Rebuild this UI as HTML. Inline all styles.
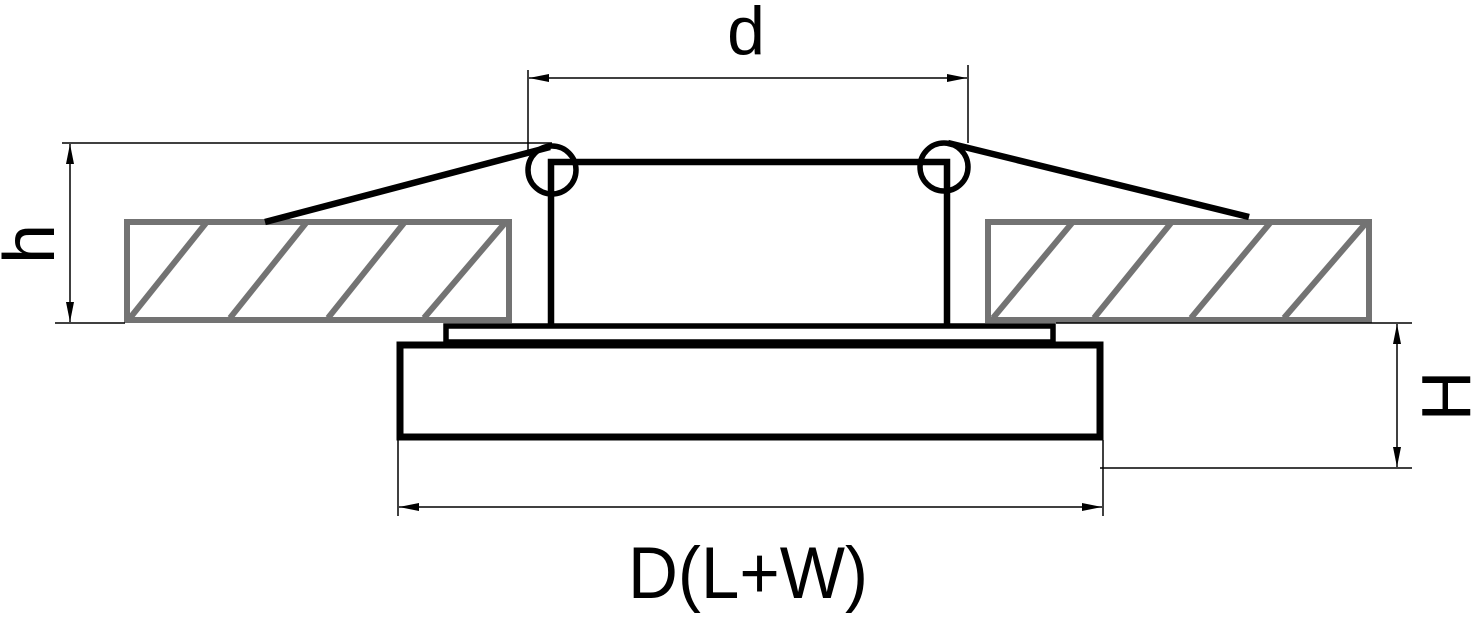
<!DOCTYPE html>
<html><head><meta charset="utf-8"><style>html,body{margin:0;padding:0;background:#fff}svg{display:block}</style></head>
<body>
<svg width="1474" height="621" viewBox="0 0 1474 621" xmlns="http://www.w3.org/2000/svg">
<defs>
<marker id="a" viewBox="0 0 20 8" refX="20" refY="4" markerWidth="20" markerHeight="8" markerUnits="userSpaceOnUse" orient="auto-start-reverse"><path d="M0,0 L20,4 L0,8 z" fill="#000"/></marker>
</defs>
<g fill="none" stroke="#737373" stroke-width="6">
<rect x="127" y="222" width="382" height="98"/>
<line x1="130" y1="318" x2="206" y2="223"/>
<line x1="230" y1="318" x2="306" y2="223"/>
<line x1="328" y1="318" x2="404" y2="223"/>
<line x1="424" y1="318" x2="505" y2="223"/>
<rect x="988" y="222" width="381" height="98"/>
<line x1="993" y1="318" x2="1072" y2="223"/>
<line x1="1094" y1="318" x2="1171" y2="223"/>
<line x1="1191" y1="318" x2="1270" y2="223"/>
<line x1="1284" y1="318" x2="1366" y2="223"/>
</g>
<g fill="none" stroke="#000" stroke-width="6.5">
<line x1="265" y1="222" x2="550" y2="147"/>
<line x1="948" y1="143" x2="1249" y2="217"/>
<polyline points="551,326 551,162 947,162 947,326"/>
<rect x="446" y="326" width="607" height="16" stroke-width="5.5"/>
<rect x="400" y="345" width="700" height="92" stroke-width="7"/>
<circle cx="552" cy="170" r="24" stroke-width="5.5"/>
<circle cx="944" cy="167" r="24" stroke-width="5.5"/>
</g>
<g stroke="#000" stroke-width="1.5" fill="none">
<line x1="528" y1="70" x2="528" y2="150"/>
<line x1="968" y1="65" x2="968" y2="143"/>
<line x1="529" y1="78" x2="967" y2="78" marker-start="url(#a)" marker-end="url(#a)"/>
<line x1="62" y1="143" x2="552" y2="143"/>
<line x1="55" y1="323" x2="125" y2="323"/>
<line x1="70" y1="144" x2="70" y2="322" marker-start="url(#a)" marker-end="url(#a)"/>
<line x1="1056" y1="323" x2="1412" y2="323"/>
<line x1="1100" y1="468" x2="1412" y2="468"/>
<line x1="1397" y1="324" x2="1397" y2="467" marker-start="url(#a)" marker-end="url(#a)"/>
<line x1="398" y1="440" x2="398" y2="516"/>
<line x1="1103" y1="440" x2="1103" y2="516"/>
<line x1="399" y1="507" x2="1102" y2="507" marker-start="url(#a)" marker-end="url(#a)"/>
</g>
<g font-family="Liberation Sans, sans-serif" fill="#000">
<text x="746" y="54" font-size="68" text-anchor="middle">d</text>
<text x="748" y="598" font-size="73" text-anchor="middle" textLength="240" lengthAdjust="spacingAndGlyphs">D(L+W)</text>
<text transform="translate(54,244) rotate(-90)" font-size="72" text-anchor="middle">h</text>
<text transform="translate(1470,396) rotate(-90)" font-size="70" text-anchor="middle">H</text>
</g>
</svg>
</body></html>
